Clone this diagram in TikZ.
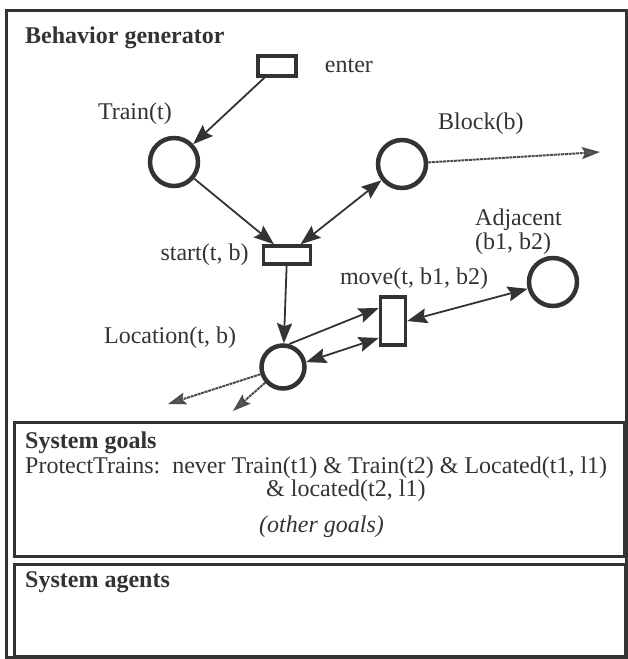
\documentclass[tikz,border=0pt]{standalone}
\usepackage{fontspec}
\setmainfont{Liberation Serif}
\usetikzlibrary{arrows.meta,
                positioning}
\definecolor{ink}{gray}{0.2}
\tikzstyle{place} = [circle, draw=ink, line width=4.5pt, minimum size=48pt, inner sep=0pt]
\tikzstyle{trans} = [rectangle, draw=ink, line width=3.5pt, inner sep=0pt]
\tikzstyle{lbl} = [inner sep=1pt, text=ink]
\tikzstyle{frame} = [draw=ink, line width=2.5pt]
\tikzstyle{arrow} = [line width=1.8pt, draw=ink, -{Stealth[length=20pt,width=15pt,inset=3pt]}]
\tikzstyle{both} = [line width=1.8pt, draw=ink, {Stealth[length=20pt,width=15pt,inset=3pt]}-{Stealth[length=20pt,width=15pt,inset=3pt]}]
\tikzstyle{outarrow} = [line width=2pt, draw=black!70, dash pattern=on 3pt off 0.7pt, -{Stealth[length=18pt,width=12pt,inset=3pt,fill=black!65]}]

\begin{document}
\begin{tikzpicture}[x=1pt, y=-1pt, font=\fontsize{24}{24}\selectfont]
    \useasboundingbox (0,0) rectangle (628,659);

    % outer frame and the two lower panels
    \draw[frame, line width=3pt] (6,10) rectangle (626,657);
    \node[frame, anchor=north west, inner sep=0pt, minimum width=610pt, minimum height=134pt] (goals) at (13,421) {};
    \node[frame, anchor=north west, inner sep=0pt, minimum width=611pt, minimum height=92pt] (agents) at (13,563) {};

    \node[lbl, anchor=base west] (bgtitle) at (24,43) {\textbf{Behavior generator}};

    % places and transitions of the net
    \node[trans, minimum width=38pt, minimum height=20pt] (enter) at (277,66) {};
    \node[lbl] (enterlbl) [right=26pt of enter] {enter};

    \node[place] (train) at (174,162) {};
    \node[lbl] (trainlbl) [above left=10pt and 1pt of train.north] {Train(t)};

    \node[place] (block) at (402,164) {};
    \node[lbl] (blocklbl) [above right=2pt and 35pt of block.north] {Block(b)};
    \coordinate (blockout) at (600,152);

    \node[trans, minimum width=47pt, minimum height=18pt] (start) at (287,255) {};
    \node[lbl] (startlbl) [left=12pt of start] {start(t, b)};

    \node[place] (adj) at (553,282) {};
    \node[lbl, align=left] (adjlbl) [above left=0pt and -10pt of adj.north] {Adjacent\\(b1, b2)};

    \node[trans, minimum width=25pt, minimum height=48pt] (move) at (393,321) {};
    \node[lbl] (movelbl) [above=4pt of move, xshift=21pt] {move(t, b1, b2)};

    \node[place, minimum size=43pt] (loc) at (283,367) {};
    \node[lbl] (loclbl) [left=22pt of loc, yshift=29pt] {Location(t, b)};
    \coordinate (locout1) at (168,404);
    \coordinate (locout2) at (233,411);

    % arcs
    \draw[arrow] (enter) -- (train);
    \draw[arrow] (train) -- (start);
    \draw[both] (block) -- (start);
    \draw[arrow] (start) -- (loc);
    \draw[arrow] (loc.75) -- ([yshift=13pt]move.west);
    \draw[both] (loc.12) -- ([yshift=-17pt]move.west);
    \draw[both] (move.east) -- (adj);
    \draw[outarrow] (block) -- (blockout);
    \draw[outarrow] (loc) -- (locout1);
    \draw[outarrow] (loc) -- (locout2);

    % goals
    \node[lbl, anchor=base west] (goalstitle) at ([shift={(11,27)}]goals.north west) {\textbf{System goals}};
    \node[lbl, anchor=base west] (protect) at ([shift={(11,52)}]goals.north west) {ProtectTrains:\ \ never Train(t1) \& Train(t2) \& Located(t1, l1)};
    \node[lbl, anchor=base west] (protect2) at (265,496) {\& located(t2, l1)};
    \node[lbl, anchor=base west] (othergoals) at (258,532) {\textit{(other goals)}};

    % agents
    \node[lbl, anchor=base west] (agentstitle) at ([shift={(11,24)}]agents.north west) {\textbf{System agents}};
\end{tikzpicture}
\end{document}
